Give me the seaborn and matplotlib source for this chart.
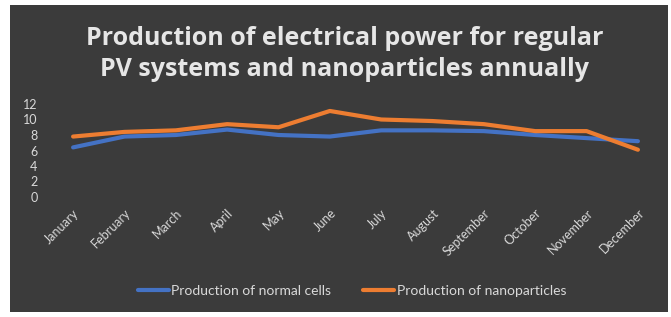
import matplotlib
matplotlib.use("Agg")
import matplotlib.pyplot as plt
import seaborn as sns
import pandas as pd
from matplotlib.patches import Rectangle
from matplotlib.lines import Line2D

months = ["January", "February", "March", "April", "May", "June", "July",
          "August", "September", "October", "November", "December"]
normal_cells = [6.4, 7.8, 8.0, 8.7, 8.0, 7.8, 8.6, 8.6, 8.5, 8.0, 7.6, 7.2]
nanoparticles = [7.8, 8.4, 8.6, 9.4, 9.0, 11.1, 10.0, 9.8, 9.4, 8.5, 8.5, 6.1]
series_names = ["Production of normal cells", "Production of nanoparticles"]
y_ticks = [0, 2, 4, 6, 8, 10, 12]
title = "Production of electrical power for regular\nPV systems and nanoparticles annually"

df = pd.DataFrame({
    "month": months * 2,
    "value": normal_cells + nanoparticles,
    "series": [series_names[0]] * 12 + [series_names[1]] * 12,
})
df["x"] = list(range(12)) * 2

sns.set_theme(style="dark")
plt.rcParams["font.family"] = ["Lato", "DejaVu Sans"]

W, H = 671, 317
fig = plt.figure(figsize=(W / 100, H / 100), dpi=100, facecolor="white")
fig.patches.append(Rectangle((10 / W, 1 - 312 / H), (668 - 10) / W, (312 - 5) / H,
                             transform=fig.transFigure, facecolor="#3b3b3b",
                             edgecolor="none", zorder=-5))

ax = fig.add_axes([50 / W, 1 - 197 / H, 610 / W, 93 / H])
ax.set_zorder(2)
ax.set_facecolor("none")
ax.patch.set_alpha(0)

palette = {series_names[0]: "#4472C4", series_names[1]: "#ED7D31"}
sns.lineplot(data=df, x="x", y="value", hue="series", palette=palette,
             linewidth=3.0, ax=ax, legend=False, sort=False)

ax.set_xlim(-0.45, 11.43)
ax.set_ylim(0, 12)
ax.set_yticks(y_ticks)
ax.set_yticklabels([str(t) for t in y_ticks])
ax.set_xticks(range(12))
ax.set_xticklabels(months, rotation=45, ha="right", rotation_mode="anchor")
ax.tick_params(axis="x", colors="#d9d9d9", labelsize=9, length=0, pad=7)
ax.tick_params(axis="y", colors="#d9d9d9", labelsize=9, length=0, pad=9)
ax.set_xlabel("")
ax.set_ylabel("")
ax.grid(False)
for s in ax.spines.values():
    s.set_visible(False)

fig.text(345 / W, 1 - 54 / H, title, ha="center", va="center",
         fontsize=18, fontweight="bold", color="#e6e6e6", linespacing=1.3,
         family=["Open Sans", "DejaVu Sans"])

handles = [Line2D([], [], color=palette[n], linewidth=3.0) for n in series_names]
leg = fig.legend(handles, series_names, loc="center", bbox_to_anchor=(352 / W, 1 - 291 / H),
                 ncol=2, frameon=False, fontsize=10, handlelength=2.2, handletextpad=0.2,
                 columnspacing=2.3)
for t in leg.get_texts():
    t.set_color("#d9d9d9")

fig.savefig("out.png", dpi=100, facecolor="white")
